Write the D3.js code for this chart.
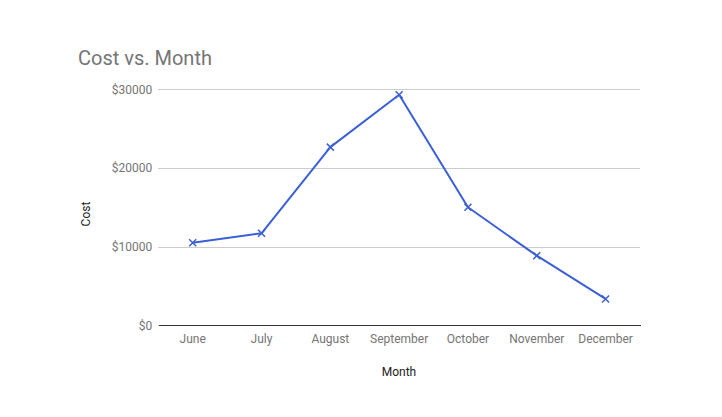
<!DOCTYPE html>
<html><head><meta charset="utf-8">
<script src="https://cdn.jsdelivr.net/npm/d3@7"></script>
<style>body{margin:0;background:#fff}svg{display:block;font-family:Roboto,sans-serif}</style>
</head><body><svg id="c" width="722" height="417"></svg>
<script>
const months = ["June","July","August","September","October","November","December"];
const cost = [10500, 11700, 22650, 29300, 15000, 8850, 3350];
const yTicks = [0, 10000, 20000, 30000];

const svg = d3.select("#c");
const m = {l:158.3, r:640, t:89.3, b:325.3};
const x = d3.scaleBand().domain(months).range([m.l, m.r]);
const y = d3.scaleLinear().domain([0, 30000]).range([m.b, m.t]);

svg.append("rect").attr("width",722).attr("height",417).attr("fill","#fff");
svg.append("text").attr("x",78).attr("y",65).attr("font-size",20).attr("fill","#757575").text("Cost vs. Month");

const gy = svg.append("g").attr("transform",`translate(${m.l},0)`)
  .call(d3.axisLeft(y).tickValues(yTicks).tickSize(-(m.r-m.l)).tickFormat(d=>"$"+d));
gy.select(".domain").remove();
gy.selectAll(".tick line").attr("stroke","#cccccc").attr("shape-rendering","crispEdges");
gy.selectAll(".tick text").attr("x",-6).attr("fill","#757575").attr("font-size",12).attr("font-family","Roboto,sans-serif");

const gx = svg.append("g").attr("transform",`translate(0,${m.b})`)
  .call(d3.axisBottom(x).tickSize(0).tickPadding(7));
gx.select(".domain").attr("stroke","#333").attr("shape-rendering","crispEdges");
gx.selectAll(".tick text").attr("fill","#757575").attr("font-size",12).attr("font-family","Roboto,sans-serif").attr("dy","0.9em");

svg.append("text").attr("x",399).attr("y",376).attr("text-anchor","middle").attr("font-size",12).attr("fill","#222").text("Month");
svg.append("text").attr("transform","translate(90,214) rotate(-90)").attr("text-anchor","middle").attr("font-size",12).attr("fill","#222").text("Cost");

const cx = d => x(d) + x.bandwidth()/2;
const line = d3.line().x((d,i)=>cx(months[i])).y(d=>y(d));
svg.append("path").datum(cost).attr("d",line).attr("fill","none").attr("stroke","#3b5fd4").attr("stroke-width",2).attr("stroke-linejoin","round");

svg.selectAll(".mk").data(cost).enter().append("path").attr("class","mk")
  .attr("transform",(d,i)=>`translate(${cx(months[i])},${y(d)})`)
  .attr("d","M-3.5,-3.5L3.5,3.5M-3.5,3.5L3.5,-3.5")
  .attr("stroke","#3b5fd4").attr("stroke-width",1.5);
</script></body></html>
